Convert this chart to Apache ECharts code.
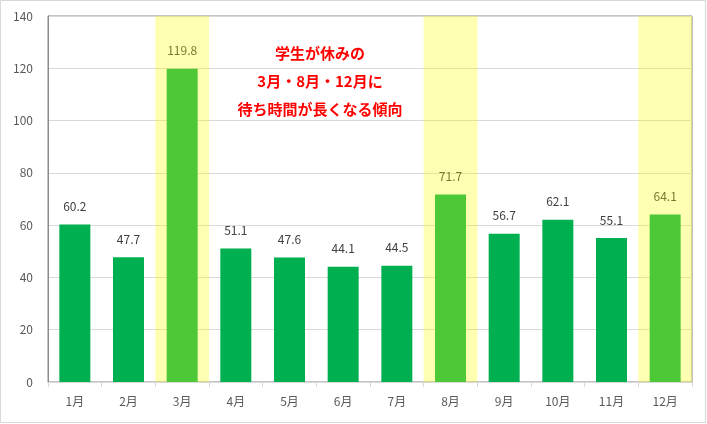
<!DOCTYPE html>
<html>
<head>
<meta charset="utf-8">
<script src="https://cdn.jsdelivr.net/npm/echarts@6/dist/echarts.min.js"></script>
<style>
html,body{margin:0;padding:0;background:#fff;}
#chart{width:707px;height:424px;}
</style>
</head>
<body>
<div id="chart"></div>
<script>
const categories = ['1月','2月','3月','4月','5月','6月','7月','8月','9月','10月','11月','12月'];
const waitValues = [60.2, 47.7, 119.8, 51.1, 47.6, 44.1, 44.5, 71.7, 56.7, 62.1, 55.1, 64.1];
const highlightMonths = ['3月','8月','12月'];
const yTicks = { min: 0, max: 140, interval: 20 };
const noteLines = ['学生が休みの', '3月・8月・12月に', '待ち時間が長くなる傾向'];

const FONT = '"Noto Sans CJK JP", "Noto Sans", sans-serif';
const chart = echarts.init(document.getElementById('chart'), null, { renderer: 'canvas' });

const highlightData = categories.map(c => highlightMonths.includes(c) ? yTicks.max : '-');

chart.setOption({
  animation: false,
  backgroundColor: '#ffffff',
  textStyle: { fontFamily: FONT },
  grid: {
    left: 48, top: 16, right: 15, bottom: 42,
    show: true, borderColor: '#8a8a8a', borderWidth: 1, backgroundColor: 'transparent'
  },
  xAxis: [{
    type: 'category',
    data: categories,
    axisLine: { lineStyle: { color: '#d9d9d9', width: 1 } },
    axisTick: { show: true, length: 5, lineStyle: { color: '#d9d9d9' } },
    axisLabel: { color: '#595959', fontSize: 12, margin: 13, fontFamily: FONT },
    splitLine: { show: false }
  }, {
    type: 'category',
    data: categories,
    show: false,
    gridIndex: 0
  }],
  yAxis: {
    type: 'value',
    min: yTicks.min, max: yTicks.max, interval: yTicks.interval,
    axisLine: { show: true, lineStyle: { color: '#8a8a8a' } },
    axisTick: { show: false },
    axisLabel: { color: '#595959', fontSize: 12, margin: 15, fontFamily: FONT },
    splitLine: { lineStyle: { color: '#d9d9d9', width: 1 } }
  },
  series: [{
    type: 'bar',
    data: waitValues,
    xAxisIndex: 0,
    barWidth: 31,
    itemStyle: { color: '#00b050' },
    z: 2,
    label: {
      show: true, position: 'top', distance: 12,
      color: '#404040', fontSize: 12, fontFamily: FONT,
      formatter: p => p.value.toFixed(1)
    }
  }, {
    type: 'bar',
    data: highlightData,
    xAxisIndex: 1,
    barWidth: '100%',
    itemStyle: { color: 'rgba(255,255,0,0.3)' },
    z: 5,
    silent: true
  }],
  graphic: [{
    type: 'rect',
    shape: { x: 0.5, y: 0.5, width: 705, height: 422 },
    style: { fill: 'none', stroke: '#d9d9d9', lineWidth: 1 },
    z: 10
  }].concat(noteLines.map((t, i) => ({
    type: 'text',
    x: 320,
    y: 53 + i * 28,
    style: {
      text: t,
      fill: '#ff0000', font: 'bold 15px ' + FONT,
      align: 'center', verticalAlign: 'middle'
    },
    z: 10
  })))
});
</script>
</body>
</html>
